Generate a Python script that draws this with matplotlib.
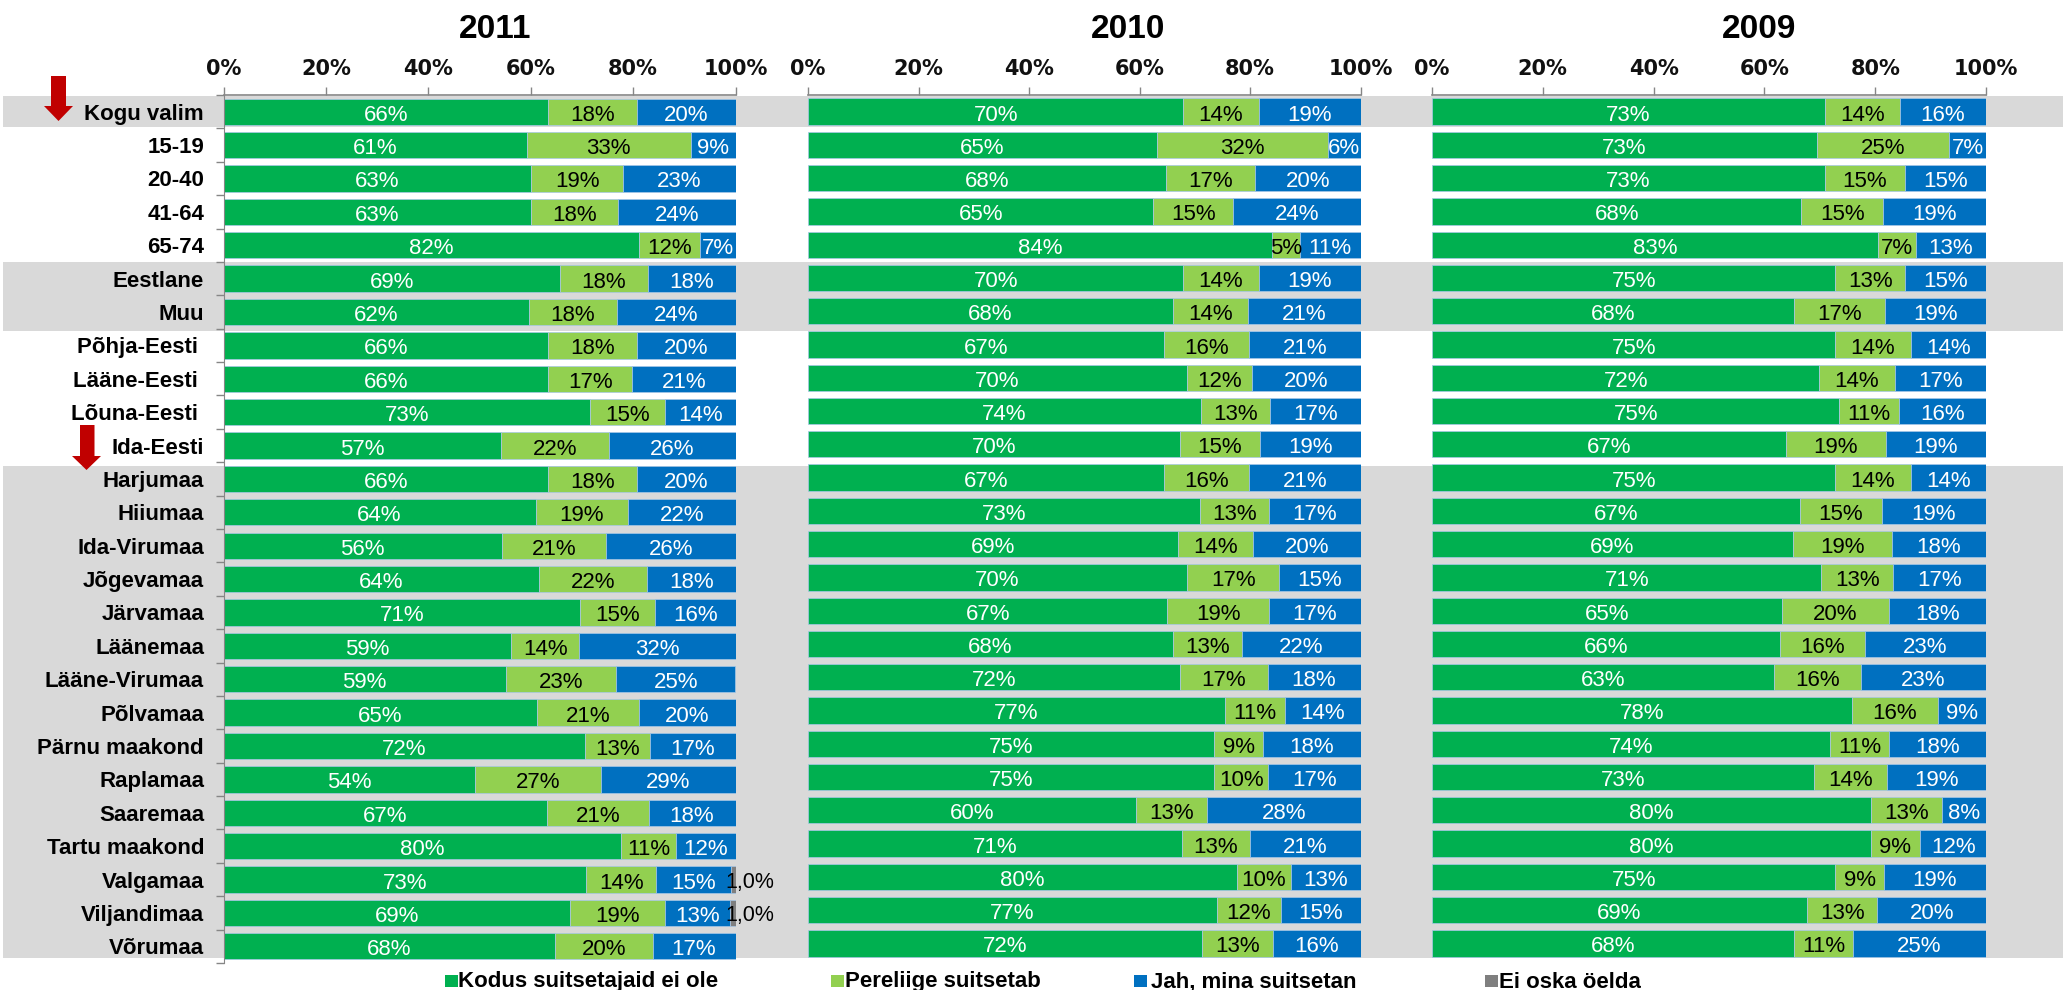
import numpy as np
import matplotlib
matplotlib.use("Agg")
import matplotlib.pyplot as plt
from matplotlib.patches import Rectangle, Polygon

W, H = 2063, 990

# Andmed
groups = ["Kogu valim", "15-19", "20-40", "41-64", "65-74", "Eestlane", "Muu",
          "Põhja-Eesti ", "Lääne-Eesti ", "Lõuna-Eesti ", "Ida-Eesti",
          "Harjumaa", "Hiiumaa", "Ida-Virumaa", "Jõgevamaa", "Järvamaa",
          "Läänemaa", "Lääne-Virumaa", "Põlvamaa", "Pärnu maakond", "Raplamaa",
          "Saaremaa", "Tartu maakond", "Valgamaa", "Viljandimaa", "Võrumaa"]
series = ["Kodus suitsetajaid ei ole", "Pereliige suitsetab", "Jah, mina suitsetan", "Ei oska öelda"]
colors = ["#00b050", "#92d050", "#0070c0", "#7f7f7f"]
years = ["2011", "2010", "2009"]
ticks = [0, 20, 40, 60, 80, 100]

no_2011 = [66, 61, 63, 63, 82, 69, 62, 66, 66, 73, 57, 66, 64, 56, 64, 71, 59, 59, 65, 72, 54, 67, 80, 73, 69, 68]
family_2011 = [18, 33, 19, 18, 12, 18, 18, 18, 17, 15, 22, 18, 19, 21, 22, 15, 14, 23, 21, 13, 27, 21, 11, 14, 19, 20]
self_2011 = [20, 9, 23, 24, 7, 18, 24, 20, 21, 14, 26, 20, 22, 26, 18, 16, 32, 25, 20, 17, 29, 18, 12, 15, 13, 17]
dk_2011 = [0, 0, 0, 0, 0, 0, 0, 0, 0, 0, 0, 0, 0, 0, 0, 0, 0, 0, 0, 0, 0, 0, 0, 1, 1, 0]

no_2010 = [70, 65, 68, 65, 84, 70, 68, 67, 70, 74, 70, 67, 73, 69, 70, 67, 68, 72, 77, 75, 75, 60, 71, 80, 77, 72]
family_2010 = [14, 32, 17, 15, 5, 14, 14, 16, 12, 13, 15, 16, 13, 14, 17, 19, 13, 17, 11, 9, 10, 13, 13, 10, 12, 13]
self_2010 = [19, 6, 20, 24, 11, 19, 21, 21, 20, 17, 19, 21, 17, 20, 15, 17, 22, 18, 14, 18, 17, 28, 21, 13, 15, 16]

no_2009 = [73, 73, 73, 68, 83, 75, 68, 75, 72, 75, 67, 75, 67, 69, 71, 65, 66, 63, 78, 74, 73, 80, 80, 75, 69, 68]
family_2009 = [14, 25, 15, 15, 7, 13, 17, 14, 14, 11, 19, 14, 15, 19, 13, 20, 16, 16, 16, 11, 14, 13, 9, 9, 13, 11]
self_2009 = [16, 7, 15, 19, 13, 15, 19, 14, 17, 16, 19, 14, 19, 18, 17, 18, 23, 23, 9, 18, 19, 8, 12, 19, 20, 25]
zeros = [0] * 26

panels = [
    (years[0], [no_2011, family_2011, self_2011, dk_2011], (223.5, 735.5, 95, 963), 495),
    (years[1], [no_2010, family_2010, self_2010, zeros], (808, 1360.5, 95, 960), 1128),
    (years[2], [no_2009, family_2009, self_2009, zeros], (1432, 1986, 95, 960), 1759),
]

plt.rcParams['font.family'] = ['Liberation Sans', 'DejaVu Sans']

fig = plt.figure(figsize=(W / 100, H / 100), dpi=100)

# taust: hallid ribad, nooled ja legend on pikslites
bg = fig.add_axes([0, 0, 1, 1], zorder=0)
bg.set_xlim(0, W)
bg.set_ylim(H, 0)
bg.axis('off')
for top, bottom in [(96, 127), (262, 331), (466, 958)]:
    bg.add_patch(Rectangle((3, top), W - 3, bottom - top, fc='#d9d9d9', ec='none'))

for x0, x1, hx0, hx1, y0, y1, tip in [(51, 66, 44, 73, 76, 106, 121), (80, 94.5, 72, 101, 425, 456, 470)]:
    bg.add_patch(Polygon([(x0, y0), (x1, y0), (x1, y1), (hx1, y1), ((hx0 + hx1) / 2, tip), (hx0, y1), (x0, y1)],
                         fc='#c00000', ec='none'))

for name, col, x, tx in zip(series, colors, [445, 831, 1134, 1485], [458, 845, 1151, 1499]):
    bg.add_patch(Rectangle((x, 975), 13, 12, fc=col, ec='none'))
    bg.text(tx, 982, name, fontsize=16, fontweight='bold', va='center', ha='left', color='black')

for year, values, box, title_x in panels:
    left, right, top, bottom = box
    ax = fig.add_axes([left / W, 1 - bottom / H, (right - left) / W, (bottom - top) / H],
                      zorder=2, facecolor='none')
    data = np.array(values, dtype=float)
    shares = data / data.sum(axis=0) * 100
    y = np.arange(len(groups)) + 0.5
    start = np.zeros(len(groups))
    for k, col in enumerate(colors):
        ax.barh(y, shares[k], left=start, height=0.79, color=col,
                edgecolor='#a8c8e8', linewidth=0.5)
        for i in range(len(groups)):
            if data[k, i] == 0:
                continue
            if k == 3:
                # 1,0% silt ulatub riba otsast välja
                ax.text(98.0, y[i], "1,0%", ha='left', va='center_baseline', fontsize=15.5, color='black', clip_on=False)
            else:
                ax.text(start[i] + shares[k, i] / 2, y[i] + 0.03, "%d%%" % data[k, i], ha='center',
                        va='center_baseline', fontsize=16, color='black' if k == 1 else 'white')
        start = start + shares[k]

    ax.set_xlim(0, 100)
    ax.set_ylim(len(groups), 0)
    ax.xaxis.tick_top()
    ax.set_xticks(ticks)
    ax.set_xticklabels(["%d%%" % t for t in ticks], fontsize=15, fontweight='bold',
                       family='DejaVu Sans', color='#111111')
    ax.tick_params(axis='x', length=5.8, width=1, color='#868686', pad=6)
    for side in ['right', 'bottom']:
        ax.spines[side].set_visible(False)
    ax.spines['top'].set_color('#868686')
    ax.spines['top'].set_linewidth(1.2)
    ax.spines['left'].set_color('#868686')

    if year == years[0]:
        ax.set_yticks(np.arange(len(groups) + 1))
        ax.set_yticklabels([])
        ax.set_yticks(y, minor=True)
        ax.set_yticklabels(groups, minor=True, fontsize=16, fontweight='bold')
        ax.tick_params(axis='y', which='major', length=5.8, width=1, color='#868686')
        ax.tick_params(axis='y', which='minor', length=0, pad=14)
    else:
        ax.set_yticks([])
        ax.spines['left'].set_visible(False)

    fig.text(title_x / W, 1 - 29.5 / H, year, fontsize=24, fontweight='bold', ha='center', va='center')

plt.savefig("out.png", dpi=100)
plt.close()
